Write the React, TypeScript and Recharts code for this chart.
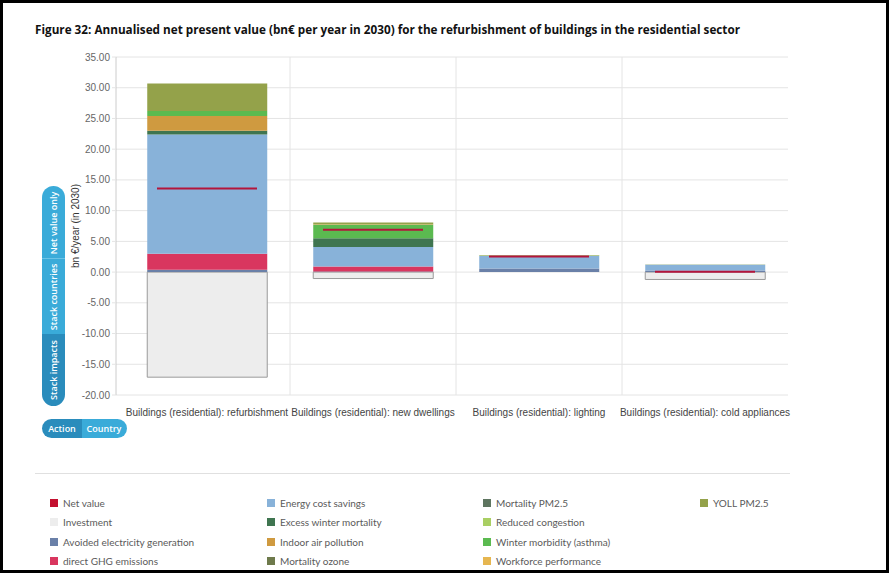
import React from "react";
import { ComposedChart, Bar, Line, XAxis, YAxis, CartesianGrid } from "recharts";

const categories = [
  "Buildings (residential): refurbishment",
  "Buildings (residential): new dwellings",
  "Buildings (residential): lighting",
  "Buildings (residential): cold appliances",
];

const netValue = [13.6, 6.9, 2.55, 0.05];
const investment = [-17.1, -1.05, 0, -1.2];
const avoidedElectricity = [0.4, 0.1, 0.6, 0.25];
const directGhg = [2.6, 0.8, 0, 0];
const energyCostSavings = [19.4, 3.2, 2.0, 0.95];
const excessWinterMortality = [0.6, 1.4, 0, 0];
const indoorAirPollution = [2.4, 0, 0, 0];
const mortalityOzone = [0, 0, 0, 0];
const mortalityPm25 = [0, 0, 0, 0];
const reducedCongestion = [0, 0, 0, 0];
const winterMorbidity = [0.8, 2.15, 0.05, 0];
const workforcePerformance = [0, 0.1, 0, 0];
const yollPm25 = [4.5, 0.3, 0.1, 0.05];

const yTicks = [-20, -15, -10, -5, 0, 5, 10, 15, 20, 25, 30, 35];

const stackSeries = [
  { key: "investment", name: "Investment", values: investment, color: "#EDEDED", stroke: "#9A9A9A" },
  { key: "avoided", name: "Avoided electricity generation", values: avoidedElectricity, color: "#6A80A8" },
  { key: "ghg", name: "direct GHG emissions", values: directGhg, color: "#D9365F" },
  { key: "energy", name: "Energy cost savings", values: energyCostSavings, color: "#88B2D9" },
  { key: "excess", name: "Excess winter mortality", values: excessWinterMortality, color: "#3F7550" },
  { key: "indoor", name: "Indoor air pollution", values: indoorAirPollution, color: "#CF9A40" },
  { key: "ozone", name: "Mortality ozone", values: mortalityOzone, color: "#6E7A4C" },
  { key: "pm25", name: "Mortality PM2.5", values: mortalityPm25, color: "#5E7560" },
  { key: "congestion", name: "Reduced congestion", values: reducedCongestion, color: "#A9CF63" },
  { key: "morbidity", name: "Winter morbidity (asthma)", values: winterMorbidity, color: "#5BBA50" },
  { key: "workforce", name: "Workforce performance", values: workforcePerformance, color: "#E6B650" },
  { key: "yoll", name: "YOLL PM2.5", values: yollPm25, color: "#94A24A" },
];

const NET_COLOR = "#C3102F";

const data = categories.map((c, i) => {
  const row: any = { name: c, net: netValue[i] };
  stackSeries.forEach((s) => {
    row[s.key] = s.values[i];
  });
  return row;
});

const legendItems = [{ name: "Net value", color: NET_COLOR }, ...stackSeries.map((s) => ({ name: s.name, color: s.color }))];

const X_PAD = 8;

const vGen = (props: any) => {
  const { offset } = props;
  const left = offset.left + X_PAD;
  const w = offset.width - X_PAD;
  const n = categories.length;
  const out: number[] = [];
  for (let i = 1; i < n; i++) out.push(left + (i * w) / n);
  return out;
};

const NetDot = (props: any) => {
  const { cx, cy } = props;
  if (cx == null || cy == null) return null;
  return <line x1={cx - 50} x2={cx + 50} y1={cy} y2={cy} stroke="#B3153C" strokeWidth={2} />;
};

const LIGHT = "#3AABD9";
const DARK = "#2A8CBC";

export default function App() {
  const legendCols = [50, 267, 483, 700];
  const legendRows = [503, 522, 542, 561];
  return (
    <div style={{ position: "absolute", left: 0, top: 0, width: 890, height: 574, background: "#fff" }}>
      <div style={{ position: "absolute", left: 0, top: 0 }}>
        <ComposedChart
          width={890}
          height={574}
          data={data}
          stackOffset="sign"
          barCategoryGap="14%"
          margin={{ top: 57, right: 102, bottom: 149, left: 0 }}
        >
          <CartesianGrid stroke="#E4E4E4" vertical={true} verticalCoordinatesGenerator={vGen} />
          <XAxis
            dataKey="name"
            padding={{ left: X_PAD, right: 0 }}
            axisLine={false}
            tickLine={false}
            height={30}
            interval={0}
            tick={{ fontSize: 10, fill: "#444", fontFamily: "Liberation Sans, Arial, sans-serif" }}
            tickMargin={8}
          />
          <YAxis
            width={116}
            domain={[-20, 35]}
            ticks={yTicks}
            allowDataOverflow
            tickFormatter={(v: number) => v.toFixed(2)}
            axisLine={{ stroke: "#CCCCCC" }}
            tickLine={{ stroke: "#E4E4E4" }}
            tickSize={4}
            tickMargin={2}
            tick={{ fontSize: 10, fill: "#666", fontFamily: "Liberation Sans, Arial, sans-serif" }}
          />
          {stackSeries.map((s) => (
            <Bar
              key={s.key}
              dataKey={s.key}
              name={s.name}
              stackId="a"
              fill={s.color}
              stroke={s.stroke || "none"}
              strokeWidth={s.stroke ? 1 : 0}
              isAnimationActive={false}
            />
          ))}
          <Line
            dataKey="net"
            name="Net value"
            stroke="none"
            dot={<NetDot />}
            activeDot={false}
            isAnimationActive={false}
          />
        </ComposedChart>
      </div>
      <svg width={890} height={574} style={{ position: "absolute", left: 0, top: 0, pointerEvents: "none" }}>
        <rect x={1.5} y={1.5} width={886} height={570} fill="none" stroke="#000" strokeWidth={3} />
        <text
          x={35}
          y={34}
          fontFamily="Open Sans, sans-serif"
          fontWeight={700}
          fontSize={13}
          fill="#111"
          textLength={705}
          lengthAdjust="spacingAndGlyphs"
        >
          Figure 32: Annualised net present value (bn€ per year in 2030) for the refurbishment of buildings in the residential sector
        </text>
        <text
          transform="translate(79,226) rotate(-90)"
          textAnchor="middle"
          fontFamily="Liberation Sans, Arial, sans-serif"
          fontSize={10}
          fill="#333"
        >
          bn €/year (in 2030)
        </text>
        <line x1={35} x2={790} y1={473.5} y2={473.5} stroke="#E0E0E0" strokeWidth={1} />
        <defs>
          <clipPath id="vpill">
            <rect x={42} y={186} width={23} height={220} rx={11.5} />
          </clipPath>
          <clipPath id="hpill">
            <rect x={42} y={419} width={85} height={19} rx={9.5} />
          </clipPath>
        </defs>
        <g clipPath="url(#vpill)">
          <rect x={42} y={186} width={23} height={148} fill={LIGHT} />
          <rect x={42} y={334} width={23} height={72} fill={DARK} />
          <line x1={42} x2={65} y1={258.5} y2={258.5} stroke="#6CC3E6" strokeWidth={1} />
        </g>
        <g fontFamily="Open Sans, sans-serif" fontSize={9} fontWeight={600} fill="#fff" textAnchor="middle">
          <text transform="translate(56.5,223) rotate(-90)">Net value only</text>
          <text transform="translate(56.5,297) rotate(-90)">Stack countries</text>
          <text transform="translate(56.5,370) rotate(-90)">Stack impacts</text>
        </g>
        <g clipPath="url(#hpill)">
          <rect x={42} y={419} width={40} height={19} fill={DARK} />
          <rect x={82} y={419} width={45} height={19} fill={LIGHT} />
        </g>
        <g fontFamily="Open Sans, sans-serif" fontSize={9} fontWeight={600} fill="#fff" textAnchor="middle">
          <text x={62} y={431.5}>Action</text>
          <text x={104} y={431.5}>Country</text>
        </g>
        <g fontFamily="Lato, sans-serif" fontSize={10} fill="#5A5A5A">
          {legendItems.map((it, i) => {
            const col = Math.floor(i / 4);
            const row = i % 4;
            const x = legendCols[col];
            const y = legendRows[row];
            return (
              <g key={it.name}>
                <rect x={x} y={y - 4} width={8} height={8} fill={it.color} />
                <text x={x + 13} y={y + 3.5}>
                  {it.name}
                </text>
              </g>
            );
          })}
        </g>
      </svg>
    </div>
  );
}
